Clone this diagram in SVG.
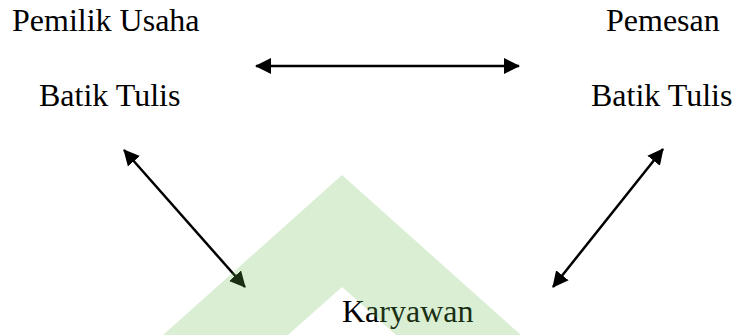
<svg xmlns="http://www.w3.org/2000/svg" width="734" height="335" viewBox="0 0 734 335">
<style>
.t{font-family:"Liberation Serif","Times New Roman",serif;font-size:32px;fill:#000}
.c{stroke:#000;stroke-width:2.5;fill:none;marker-start:url(#ah);marker-end:url(#ah)}
</style>
<defs>
<marker id="ah" markerUnits="userSpaceOnUse" markerWidth="17" markerHeight="17" refX="15" refY="8" orient="auto-start-reverse" viewBox="0 0 17 16">
<path d="M0,0 L16,8 L0,16 Z" fill="#000"/>
</marker>
</defs>
<rect width="734" height="335" fill="#fff"/>
<g id="pemilik"><text class="t" x="12" y="31">Pemilik Usaha</text><text class="t" x="39" y="106">Batik Tulis</text></g>
<g id="pemesan"><text class="t" x="606" y="31">Pemesan</text><text class="t" x="591" y="106">Batik Tulis</text></g>
<g id="karyawan"><text class="t" x="342" y="322">Karyawan</text></g>
<g id="connectors">
<line class="c" x1="256" y1="66" x2="519" y2="66"/>
<line class="c" x1="124" y1="150" x2="245" y2="287"/>
<line class="c" x1="663" y1="149" x2="553" y2="287"/>
</g>
<polygon points="342,175 521,335 396,335 342,287 288,335 163,335" fill="rgb(105,186,81)" fill-opacity="0.247"/>
</svg>
